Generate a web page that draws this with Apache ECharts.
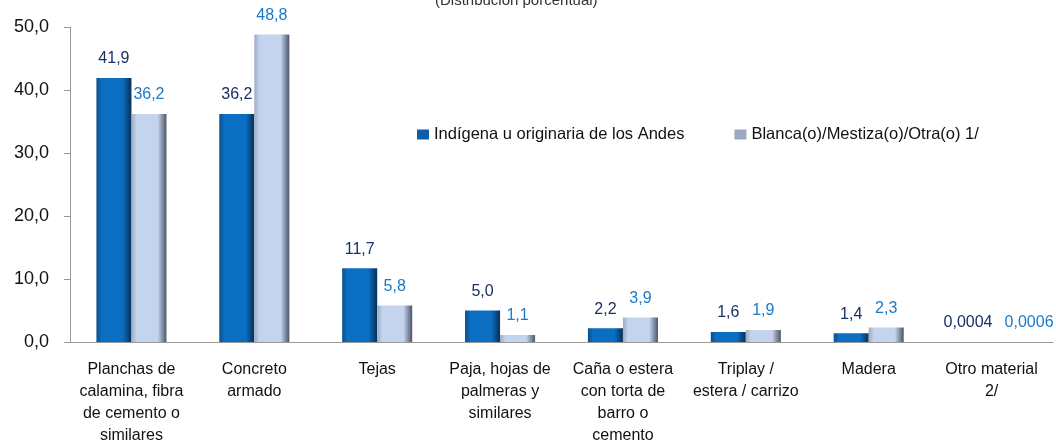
<!DOCTYPE html>
<html><head><meta charset="utf-8">
<script src="https://cdn.jsdelivr.net/npm/echarts@6/dist/echarts.min.js"></script>
<style>html,body{margin:0;padding:0;background:#fff}#c{width:1056px;height:447px}</style>
</head><body><div id="c"></div>
<script>
const categories = ["Planchas de\ncalamina, fibra\nde cemento o\nsimilares","Concreto\narmado","Tejas","Paja, hojas de\npalmeras y\nsimilares","Caña o estera\ncon torta de\nbarro o\ncemento","Triplay /\nestera / carrizo","Madera","Otro material\n2/"];
const seriesNames = ["Indígena u originaria de los Andes","Blanca(o)/Mestiza(o)/Otra(o) 1/"];
const indigena = [41.9,36.2,11.7,5.0,2.2,1.6,1.4,0.0004];
const blanca = [36.2,48.8,5.8,1.1,3.9,1.9,2.3,0.0006];
const yTicks = {min:0,max:50,interval:10};

const FONT = '"Liberation Sans",Arial,sans-serif';
function fmt(v){ return v < 0.01 ? String(v).replace('.',',') : v.toFixed(1).replace('.',','); }
function grad(l,m,r){ return new echarts.graphic.LinearGradient(0,0,1,0,[{offset:0,color:l},{offset:0.15,color:m},{offset:0.75,color:m},{offset:1,color:r}]); }
function items(arr, shiftLast){
  return arr.map((v,i)=> i===arr.length-1 ? {value:v,label:{offset:[shiftLast,0]}} : v);
}

const chart = echarts.init(document.getElementById('c'));
chart.setOption({
  animation:false,
  title:{text:'(Distribución porcentual)',left:430,top:-12,textStyle:{fontFamily:FONT,fontSize:15,fontWeight:'normal',color:'#333'}},
  legend:{left:412,top:121,itemWidth:12,itemHeight:10,itemGap:50,icon:'rect',
    textStyle:{fontFamily:FONT,fontSize:16.5,color:'#111'},
    data:[{name:seriesNames[0],itemStyle:{color:'#0b5ea8'}},{name:seriesNames[1],itemStyle:{color:'#9aa9c4'}}]},
  grid:{left:70,right:3,top:27,bottom:105},
  xAxis:{type:'category',data:categories,
    axisLine:{lineStyle:{color:'#999'}},axisTick:{lineStyle:{color:'#999'},length:6},
    axisLabel:{fontFamily:FONT,fontSize:16,color:'#111',lineHeight:22,margin:17,interval:0}},
  yAxis:{type:'value',min:yTicks.min,max:yTicks.max,interval:yTicks.interval,
    splitLine:{show:false},axisLine:{show:true,lineStyle:{color:'#999'}},axisTick:{show:true,length:6,lineStyle:{color:'#999'}},
    axisLabel:{fontFamily:FONT,fontSize:18,color:'#111',margin:21,formatter:v=>v.toFixed(1).replace('.',',')}},
  series:[
    {name:seriesNames[0],type:'bar',data:items(indigena,-6),barWidth:'28.5%',barGap:'0%',
      itemStyle:{color:grad('#0a4f8c','#0a6fc2','#082f55')},
      label:{show:true,position:'top',distance:11,fontFamily:FONT,fontSize:16,color:'#1a2f66',formatter:p=>fmt(p.value)}},
    {name:seriesNames[1],type:'bar',data:items(blanca,20),barWidth:'28.5%',barGap:'0%',
      itemStyle:{color:grad('#9aabc6','#c4d4ee','#4b5568')},
      label:{show:true,position:'top',distance:11,fontFamily:FONT,fontSize:16,color:'#1a7ac9',formatter:p=>fmt(p.value)}}
  ]
});
</script></body></html>
